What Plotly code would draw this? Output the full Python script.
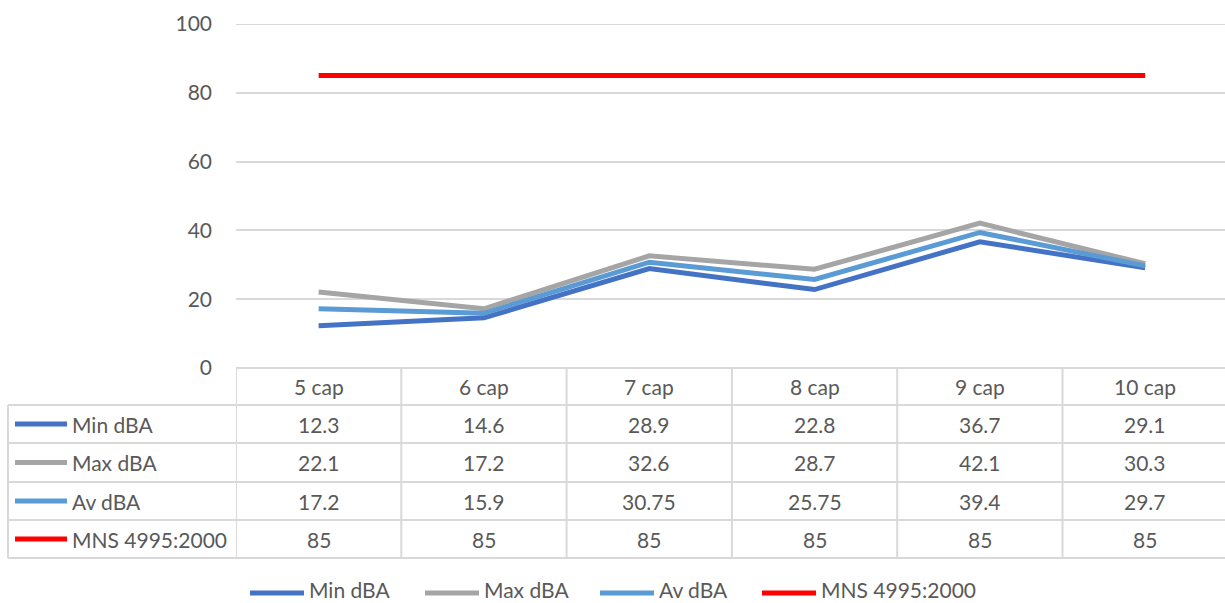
import plotly.graph_objects as go

# data
categories = ['5 cap', '6 cap', '7 cap', '8 cap', '9 cap', '10 cap']
min_dba = [12.3, 14.6, 28.9, 22.8, 36.7, 29.1]
max_dba = [22.1, 17.2, 32.6, 28.7, 42.1, 30.3]
av_dba = [17.2, 15.9, 30.75, 25.75, 39.4, 29.7]
mns_limit = [85, 85, 85, 85, 85, 85]

series_names = ['Min dBA', 'Max dBA', 'Av dBA', 'MNS 4995:2000']
series_values = [min_dba, max_dba, av_dba, mns_limit]
series_colors = ['#4472C4', '#A5A5A5', '#5B9BD5', '#FF0000']

W, H = 1225, 603
FONT = 'Lato'
FS = 21
TXT = '#595959'
GRID = '#D9D9D9'

def px_x(x):
    return x / W

def px_y(y):
    return 1 - y / H

# plot area in pixels (the last column runs a few px past the right edge)
plot_left, plot_right = 236, 1225
col_w = 165.3
x_end = len(categories) - 0.5 - (plot_left + col_w * len(categories) - plot_right) / col_w
plot_top, plot_bottom = 24, 368
# table rows (pixel y of row borders)
row_edges = [368, 405, 443, 482, 520, 558]
table_left = 8

fig = go.Figure()
for name, vals, col in zip(series_names, series_values, series_colors):
    fig.add_trace(go.Scatter(x=categories, y=vals, name=name, mode='lines',
                             line=dict(color=col, width=5), showlegend=False))

shapes = []
annotations = []
cell_font = dict(size=FS, color=TXT, family=FONT)

# top gridline (sits on the edge of the y range)
shapes.append(dict(type='line', xref='paper', yref='y', layer='below',
                   x0=px_x(plot_left), x1=1, y0=100, y1=100,
                   line=dict(color=GRID, width=2)))

# horizontal table lines
shapes.append(dict(type='line', xref='paper', yref='paper',
                   x0=px_x(plot_left), x1=1, y0=px_y(row_edges[0]), y1=px_y(row_edges[0]),
                   line=dict(color=GRID, width=2)))
for y in row_edges[1:]:
    shapes.append(dict(type='line', xref='paper', yref='paper',
                       x0=px_x(table_left), x1=1, y0=px_y(y), y1=px_y(y),
                       line=dict(color=GRID, width=2)))
# left border
shapes.append(dict(type='line', xref='paper', yref='paper',
                   x0=px_x(table_left), x1=px_x(table_left),
                   y0=px_y(row_edges[1]), y1=px_y(row_edges[-1]),
                   line=dict(color=GRID, width=2)))
# column boundaries, on the category axis scale
for i in range(len(categories) + 1):
    shapes.append(dict(type='line', xref='x', yref='paper',
                       x0=i - 0.5, x1=i - 0.5,
                       y0=px_y(row_edges[0]), y1=px_y(row_edges[-1]),
                       line=dict(color=GRID, width=2)))

def row_mid(r):
    return px_y((row_edges[r] + row_edges[r + 1]) / 2)

# header row
for c in categories:
    annotations.append(dict(x=c, xref='x', y=row_mid(0), yref='paper', text=c,
                            showarrow=False, xanchor='center', yanchor='middle',
                            font=cell_font))

# data rows
for r, (name, vals, col) in enumerate(zip(series_names, series_values, series_colors), start=1):
    ym = row_mid(r)
    shapes.append(dict(type='line', xref='paper', yref='paper',
                       x0=px_x(15), x1=px_x(67), y0=ym, y1=ym,
                       line=dict(color=col, width=5)))
    annotations.append(dict(x=px_x(70), xref='paper', y=ym, yref='paper', text=name,
                            showarrow=False, xanchor='left', yanchor='middle',
                            font=cell_font))
    for c, v in zip(categories, vals):
        annotations.append(dict(x=c, xref='x', y=ym, yref='paper', text=f'{v:g}',
                                showarrow=False, xanchor='center', yanchor='middle',
                                font=cell_font))

# legend along the bottom, drawn like the Excel one
legend_x = [250, 425, 600, 762]
key_y = px_y(593)
text_y = px_y(589)
for lx, name, col in zip(legend_x, series_names, series_colors):
    shapes.append(dict(type='line', xref='paper', yref='paper',
                       x0=px_x(lx), x1=px_x(lx + 54), y0=key_y, y1=key_y,
                       line=dict(color=col, width=5)))
    annotations.append(dict(x=px_x(lx + 57), xref='paper', y=text_y, yref='paper',
                            text=name, showarrow=False, xanchor='left', yanchor='middle',
                            font=cell_font))

fig.update_layout(
    template='none',
    width=W, height=H, autosize=False,
    margin=dict(l=0, r=0, t=0, b=0, pad=0),
    paper_bgcolor='white', plot_bgcolor='white',
    font=dict(family=FONT, color=TXT, size=FS),
    showlegend=False,
    xaxis=dict(type='category', categoryorder='array', categoryarray=categories,
               range=[-0.5, x_end],
               domain=[px_x(plot_left), px_x(plot_right)], automargin=False,
               showgrid=False, showline=False, zeroline=False, showticklabels=False,
               ticks=''),
    yaxis=dict(range=[0, 100], dtick=20, domain=[px_y(plot_bottom), px_y(plot_top)],
               automargin=False,
               showgrid=True, gridcolor=GRID, gridwidth=2, zeroline=False,
               showline=False, ticks='', ticklabelstandoff=23,
               tickfont=cell_font),
    shapes=shapes,
    annotations=annotations,
)

fig.write_html("out.html", config={'displayModeBar': False},
               post_script="document.body.style.margin='0';")
